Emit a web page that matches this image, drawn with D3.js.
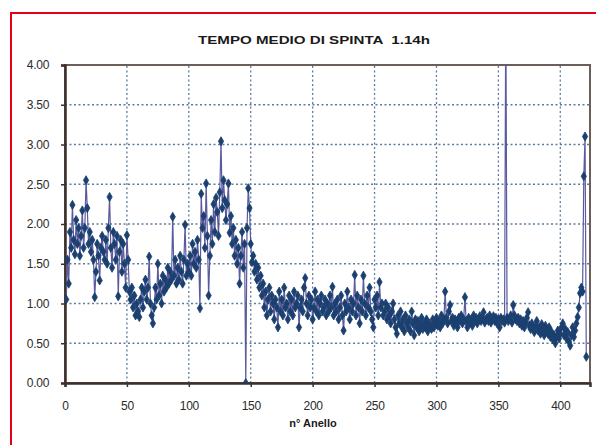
<!DOCTYPE html>
<html><head><meta charset="utf-8">
<script src="https://cdn.jsdelivr.net/npm/d3@7"></script>
<style>body{margin:0;background:#fff}svg{display:block}</style>
</head><body>
<script>
const title = "TEMPO MEDIO DI SPINTA  1.14h";
const xLabel = "n° Anello";
const xTicks = [0, 50, 100, 150, 200, 250, 300, 350, 400];
const yTicks = [0, 0.5, 1, 1.5, 2, 2.5, 3, 3.5, 4];
const xMax = 424;
const values = [
1.05,1.55,1.25,1.90,1.70,2.24,1.80,1.62,2.05,1.75,
1.95,1.60,1.85,2.17,1.70,1.95,2.55,2.20,1.75,1.90,
1.65,1.80,1.55,1.08,1.40,1.75,1.60,1.29,1.70,1.85,
1.65,1.55,1.80,1.50,1.95,2.34,1.70,1.45,1.90,1.75,
1.55,1.85,1.09,1.65,1.80,1.40,1.75,1.50,1.20,1.86,
1.55,1.15,1.05,1.20,0.95,1.10,0.85,1.00,0.90,0.83,
1.05,1.20,0.95,1.15,1.30,1.05,1.20,1.59,1.00,0.85,
0.75,0.95,1.20,1.05,1.50,1.10,1.25,1.00,1.35,1.15,
1.30,1.20,1.45,1.25,1.40,1.30,2.09,1.35,1.55,1.25,
1.45,1.30,1.60,1.40,1.25,1.55,1.99,1.35,1.50,1.40,
1.60,1.35,1.75,1.50,1.65,1.45,1.80,1.55,0.94,2.38,
1.95,2.10,1.70,2.51,1.85,1.10,1.60,2.05,1.75,2.25,
1.90,2.33,2.15,1.85,2.40,3.04,2.20,2.55,2.30,2.05,
2.25,2.51,1.89,2.10,1.75,1.95,1.60,1.80,1.50,1.70,
1.25,1.60,1.90,1.45,1.75,0.00,1.95,2.45,2.20,1.75,
1.52,1.60,1.40,1.50,1.30,1.45,1.20,1.35,1.10,1.25,
0.95,1.15,0.85,1.05,1.20,0.90,1.10,1.00,0.80,1.05,
0.95,0.70,1.15,0.90,1.05,0.85,1.20,0.95,1.00,0.80,
1.10,0.90,1.05,0.85,1.15,0.95,1.00,1.10,0.70,0.95,
1.05,0.90,1.20,1.32,1.00,0.85,1.10,0.95,1.05,0.80,
0.95,1.15,0.90,1.05,0.85,1.00,1.10,0.90,0.95,1.05,
0.85,1.00,0.90,1.10,0.95,1.21,0.85,1.00,0.90,1.05,
0.80,0.95,1.10,0.85,0.66,1.00,0.90,1.15,0.95,0.80,
1.05,0.90,1.00,1.36,0.85,1.10,0.95,0.75,1.05,0.90,
1.35,1.00,0.85,1.10,0.95,1.20,0.90,0.80,0.70,1.05,
0.95,1.10,0.85,1.27,0.95,1.00,0.85,0.90,1.00,0.80,
0.95,0.85,0.75,0.90,1.00,0.80,0.70,0.62,0.85,0.75,
0.90,0.70,0.80,0.65,0.85,0.75,0.70,0.80,0.65,0.90,
0.75,0.60,0.80,0.70,0.78,0.65,0.72,0.82,0.68,0.75,
0.70,0.80,0.65,0.75,0.72,0.68,0.80,0.70,0.75,0.82,
0.72,0.78,0.70,0.85,0.75,0.80,1.15,0.82,0.75,0.90,
0.98,0.78,0.82,0.72,0.80,0.76,0.70,0.82,0.78,0.85,
0.75,0.80,1.08,0.78,0.70,0.82,0.76,0.80,0.72,0.85,
0.78,0.82,0.75,0.80,0.84,0.78,0.82,0.89,0.76,0.80,
0.82,0.78,0.85,0.76,0.80,0.84,0.78,0.82,0.75,0.80,
0.70,0.82,0.78,0.80,0.76,4.80,0.82,0.78,0.80,0.85,
0.76,0.98,0.85,0.80,0.78,0.82,0.75,0.80,0.72,0.78,
0.70,0.76,0.82,0.89,0.72,0.68,0.75,0.70,0.64,0.72,
0.78,0.66,0.70,0.62,0.74,0.68,0.60,0.72,0.65,0.62,
0.70,0.58,0.64,0.55,0.60,0.50,0.58,0.66,0.56,0.62,
0.70,0.75,0.60,0.68,0.56,0.64,0.52,0.47,0.60,0.70,
0.58,0.66,0.75,0.83,0.95,1.13,1.20,1.15,2.60,3.10,
0.33
];
const data = values.map((v, i) => ({x: i + 1, y: v}));

const W = 596, H = 445;
const m = {left: 65, right: 6, top: 65, bottom: 62};
const svg = d3.select("body").append("svg").attr("width", W).attr("height", H);

// red frame
svg.append("rect").attr("x", 11).attr("y", 13).attr("width", 700).attr("height", 600)
  .attr("fill", "none").attr("stroke", "#e2001a").attr("stroke-width", 2);

const x = d3.scaleLinear().domain([0, xMax]).range([m.left, W - m.right]);
const y = d3.scaleLinear().domain([0, 4]).range([H - m.bottom, m.top]);

// grid
const grid = svg.append("g").attr("stroke", "#5d7c9c").attr("stroke-width", 1.3).attr("stroke-dasharray", "2,2.5");
grid.selectAll(".gy").data(yTicks.filter(t => t > 0 && t < 4)).join("line")
  .attr("x1", x(0)).attr("x2", x(xMax)).attr("y1", d => y(d)).attr("y2", d => y(d));
grid.selectAll(".gx").data(xTicks.filter(t => t > 0)).join("line")
  .attr("y1", y(0)).attr("y2", y(4)).attr("x1", d => x(d)).attr("x2", d => x(d));

// plot border top/right
svg.append("rect").attr("x", x(0)).attr("y", y(4)).attr("width", x(xMax) - x(0)).attr("height", y(0) - y(4))
  .attr("fill", "none").attr("stroke", "#6b5f5b").attr("stroke-width", 2);

// axes
const yAxis = svg.append("g").attr("transform", `translate(${x(0)},0)`)
  .call(d3.axisLeft(y).tickValues(yTicks).tickFormat(d3.format(".2f")).tickSize(4).tickPadding(12));
const xAxis = svg.append("g").attr("transform", `translate(0,${y(0)})`)
  .call(d3.axisBottom(x).tickValues(xTicks).tickFormat(d3.format("d")).tickSize(4).tickPadding(14));
[yAxis, xAxis].forEach(a => {
  a.select(".domain").attr("stroke", "#3b302c").attr("stroke-width", 2.5);
  a.selectAll(".tick line").attr("stroke", "#3b302c").attr("stroke-width", 1.5);
  a.selectAll("text").attr("font-family", "Liberation Sans, Arial, sans-serif")
    .attr("font-size", 12).attr("fill", "#2a2a2a").attr("letter-spacing", -0.3);
});

// series
svg.append("clipPath").attr("id", "clip").append("rect")
  .attr("x", x(0)).attr("y", y(4)).attr("width", x(xMax) - x(0)).attr("height", y(0) - y(4));
const g = svg.append("g").attr("clip-path", "url(#clip)");
g.append("path").datum(data)
  .attr("fill", "none").attr("stroke", "#5a5a9c").attr("stroke-width", 1.2)
  .attr("d", d3.line().x(d => x(d.x)).y(d => y(d.y)));
g.selectAll(".mk").data(data).join("path")
  .attr("transform", d => `translate(${x(d.x)},${y(d.y)})`)
  .attr("d", d3.symbol(d3.symbolDiamond, 24))
  .attr("fill", "#1b4070").attr("stroke", "#1b4070").attr("stroke-width", 0.8);

// titles
svg.append("text").attr("x", 314).attr("y", 44).attr("text-anchor", "middle")
  .style("white-space", "pre")
  .attr("font-family", "Liberation Sans, Arial, sans-serif").attr("font-weight", "bold").attr("font-size", 11)
  .attr("textLength", 232).attr("lengthAdjust", "spacingAndGlyphs").attr("fill", "#1a1a1a").text(title);
svg.append("text").attr("x", 313).attr("y", 427).attr("text-anchor", "middle")
  .attr("font-family", "Liberation Sans, Arial, sans-serif").attr("font-weight", "bold").attr("font-size", 11)
  .attr("fill", "#1a1a1a").text(xLabel);
</script>
</body></html>
